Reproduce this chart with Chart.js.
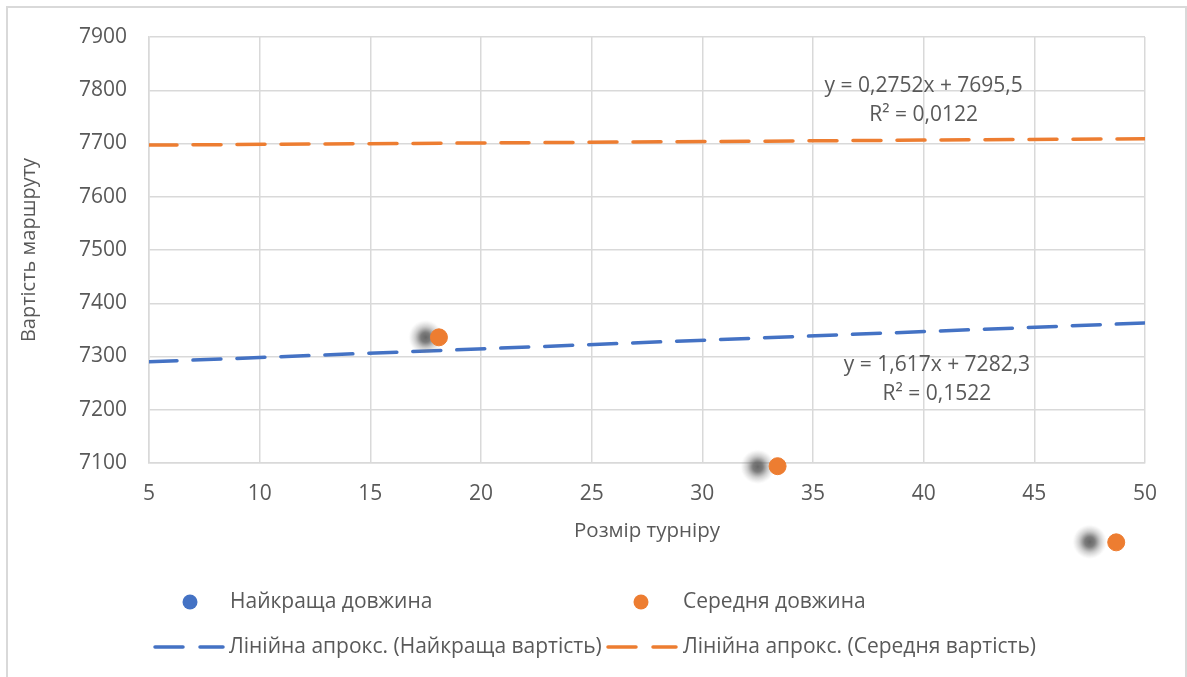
<!DOCTYPE html>
<html>
<head>
<meta charset="utf-8">
<script src="https://cdn.jsdelivr.net/npm/chart.js@4/dist/chart.umd.min.js"></script>
<style>
  html, body { margin: 0; padding: 0; overflow: hidden; background: #fff; }
  #frame { position: absolute; left: 6px; top: 6px; width: 1177px; height: 720px; border: 2px solid #d9d9d9; }
  #wrap { position: absolute; left: 0; top: 0; width: 1187px; height: 677px; }
</style>
</head>
<body>
<div id="frame"></div>
<div id="wrap"><canvas id="chart"></canvas></div>
<script>
// values
const bestSize = [17.5, 32.5, 47.5];
const bestCost = [7336, 7093, 6952];
const meanSize = [18.1, 33.4, 48.7];
const meanCost = [7336, 7094, 6951];

const trendSize = [5, 50];
const trendBest = [7290, 7363];
const trendMean = [7697, 7709];

const xRange = [5, 50, 5];
const yRange = [7100, 7900, 100];

const seriesNames = ["Найкраща довжина", "Середня довжина"];
const trendNames = ["Лінійна апрокс. (Найкраща вартість)", "Лінійна апрокс. (Середня вартість)"];
const equations = [["y = 0,2752x + 7695,5", "R² = 0,0122"], ["y = 1,617x + 7282,3", "R² = 0,1522"]];
const equationAt = [[40.0, 7781], [40.6, 7256]];

const BLUE = "#4472C4";
const ORANGE = "#ED7D31";
const GREY_TEXT = "#595959";
const GRID = "#d9d9d9";
const FONT = "'Open Sans', sans-serif";

function points(xs, ys) {
  return xs.map((x, i) => ({ x: x, y: ys[i] }));
}

// blurred dark dot, the way the "best" points look in the picture
function blurDot() {
  const c = document.createElement("canvas");
  c.width = 36;
  c.height = 36;
  const g = c.getContext("2d");
  const grad = g.createRadialGradient(18, 18, 0, 18, 18, 17);
  grad.addColorStop(0, "rgba(88,88,88,0.92)");
  grad.addColorStop(0.3, "rgba(92,92,92,0.8)");
  grad.addColorStop(0.62, "rgba(110,110,110,0.35)");
  grad.addColorStop(1, "rgba(150,150,150,0)");
  g.fillStyle = grad;
  g.fillRect(0, 0, 36, 36);
  return c;
}

// points may sit below the x axis, so let them draw outside the plot area
let savedArea = null;
const looseArea = {
  id: "looseArea",
  beforeDatasetDraw(chart, args) {
    if (chart.data.datasets[args.index].showLine) return;
    savedArea = chart.chartArea;
    chart.chartArea = { left: 0, top: 0, right: chart.width, bottom: chart.height, width: chart.width, height: chart.height };
  },
  afterDatasetDraw(chart) {
    if (savedArea) {
      chart.chartArea = savedArea;
      savedArea = null;
    }
  }
};

const extras = {
  id: "extras",
  afterDraw(chart) {
    const ctx = chart.ctx;
    const xs = chart.scales.x;
    const ys = chart.scales.y;
    ctx.save();
    ctx.fillStyle = GREY_TEXT;
    ctx.font = "21px " + FONT;
    ctx.textAlign = "center";
    ctx.textBaseline = "middle";
    equations.forEach((lines, i) => {
      const px = xs.getPixelForValue(equationAt[i][0]);
      const py = ys.getPixelForValue(equationAt[i][1]);
      ctx.fillText(lines[0], px, py - 14.5);
      ctx.fillText(lines[1], px, py + 14.5);
    });

    // legend, laid out as two columns like the original
    const row1 = 602, row2 = 647;
    const cols = [[190, 230], [641, 683]];
    const colors = [BLUE, ORANGE];
    ctx.textAlign = "left";
    for (let i = 0; i < 2; i++) {
      ctx.fillStyle = colors[i];
      ctx.beginPath();
      ctx.arc(cols[i][0], row1, 7.5, 0, Math.PI * 2);
      ctx.fill();
      ctx.fillStyle = GREY_TEXT;
      ctx.fillText(seriesNames[i], cols[i][1], row1);

      const lx = i === 0 ? 155 : 608;
      ctx.strokeStyle = colors[i];
      ctx.lineWidth = 3.5;
      ctx.lineCap = "round";
      ctx.beginPath();
      ctx.moveTo(lx, row2);
      ctx.lineTo(lx + 28, row2);
      ctx.moveTo(lx + 45, row2);
      ctx.lineTo(lx + 68, row2);
      ctx.stroke();
      ctx.fillText(trendNames[i], i === 0 ? 229 : 683, row2);
    }
    ctx.restore();
  }
};

new Chart(document.getElementById("chart").getContext("2d"), {
  type: "scatter",
  data: {
    datasets: [
      {
        label: trendNames[0],
        data: points(trendSize, trendBest),
        showLine: true,
        borderColor: BLUE,
        borderWidth: 3.5,
        borderDash: [28, 16],
        borderCapStyle: "round",
        pointRadius: 0,
        order: 3
      },
      {
        label: trendNames[1],
        data: points(trendSize, trendMean),
        showLine: true,
        borderColor: ORANGE,
        borderWidth: 3.5,
        borderDash: [28, 16],
        borderCapStyle: "round",
        pointRadius: 0,
        order: 3
      },
      {
        label: seriesNames[0],
        data: points(bestSize, bestCost),
        pointStyle: blurDot(),
        pointRadius: 18,
        clip: false,
        order: 2
      },
      {
        label: seriesNames[1],
        data: points(meanSize, meanCost),
        backgroundColor: ORANGE,
        borderColor: ORANGE,
        borderWidth: 1,
        pointRadius: 8.5,
        clip: false,
        order: 1
      }
    ]
  },
  options: {
    responsive: true,
    maintainAspectRatio: false,
    animation: false,
    layout: {
      padding: { left: 0, top: 37, right: 42, bottom: 129 }
    },
    scales: {
      x: {
        type: "linear",
        min: xRange[0],
        max: xRange[1],
        afterFit(scale) { scale.height = 85; },
        ticks: { stepSize: xRange[2], color: GREY_TEXT, font: { family: FONT, size: 21 }, padding: 18, callback: v => String(v) },
        grid: { color: GRID, lineWidth: 1.5, drawTicks: false },
        border: { color: GRID, width: 1.5 },
        title: {
          display: true,
          text: "Розмір турніру",
          color: GREY_TEXT,
          font: { family: FONT, size: 20.5 },
          padding: { top: 0, bottom: 5 }
        }
      },
      y: {
        type: "linear",
        min: yRange[0],
        max: yRange[1],
        afterFit(scale) { scale.width = 149; },
        ticks: { stepSize: yRange[2], color: GREY_TEXT, font: { family: FONT, size: 21 }, padding: 22, callback: v => String(v) },
        grid: { color: GRID, lineWidth: 1.5, drawTicks: false },
        border: { color: GRID, width: 1.5 },
        title: {
          display: true,
          text: "Вартість маршруту",
          color: GREY_TEXT,
          font: { family: FONT, size: 20 },
          padding: { top: 17, bottom: 0 }
        }
      }
    },
    plugins: {
      legend: { display: false },
      tooltip: { enabled: false }
    }
  },
  plugins: [looseArea, extras]
});
</script>
</body>
</html>
